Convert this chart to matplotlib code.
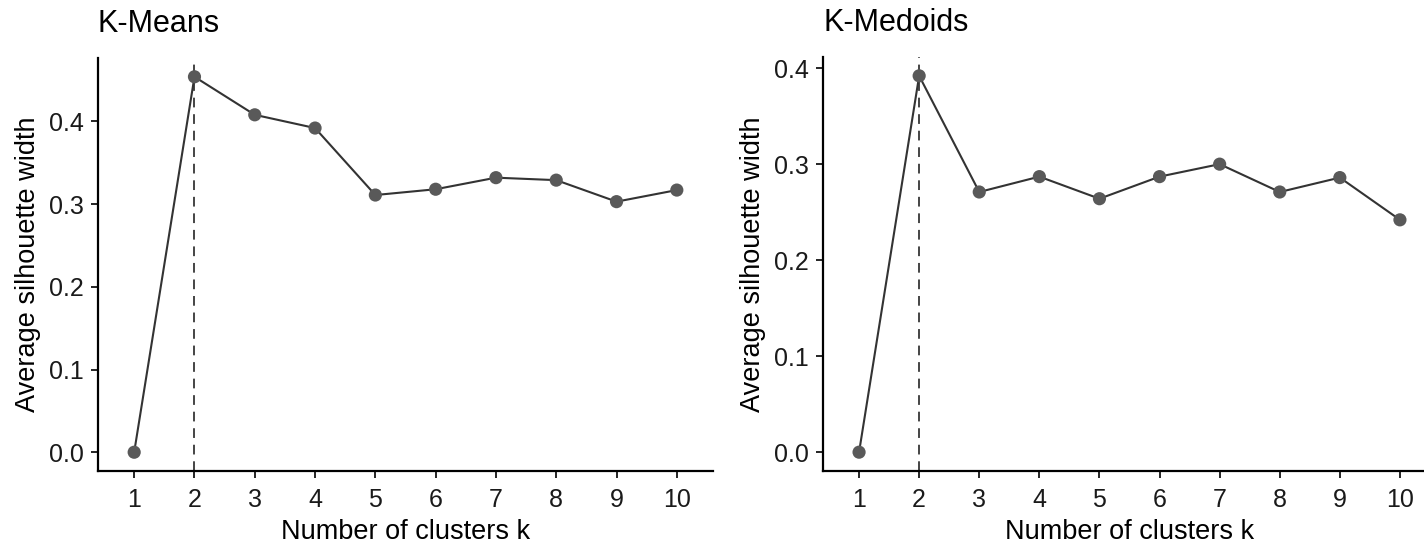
import matplotlib
matplotlib.use('Agg')
import matplotlib.pyplot as plt

# silhouette widths
k_values = [1, 2, 3, 4, 5, 6, 7, 8, 9, 10]
kmeans_sil = [0.0, 0.454, 0.408, 0.392, 0.311, 0.318, 0.332, 0.329, 0.303, 0.317]
kmedoids_sil = [0.0, 0.392, 0.271, 0.287, 0.264, 0.287, 0.300, 0.271, 0.286, 0.242]
best_k = 2
titles = ['K-Means', 'K-Medoids']
yticks_kmeans = [0.0, 0.1, 0.2, 0.3, 0.4]
yticks_kmedoids = [0.0, 0.1, 0.2, 0.3, 0.4]

plt.rcParams['font.family'] = ['Liberation Sans', 'DejaVu Sans']

LINE = '#333333'
POINT = '#595959'


def draw_panel(ax, y, title, yticks):
    ax.plot(k_values, y, color=LINE, lw=1.5, zorder=2)
    ax.scatter(k_values, y, s=90, color=POINT, zorder=3, edgecolors='none')
    ax.axvline(best_k, color='#444444', lw=1.4, ls=(0, (5, 3.5)), zorder=1)
    ymax = max(y)
    pad = 0.05 * ymax
    ax.set_ylim(-pad, ymax + pad)
    ax.set_xlim(0.4, 10.6)
    ax.set_xticks(k_values)
    ax.set_yticks(yticks)
    ax.set_yticklabels(['{:.1f}'.format(t) for t in yticks])
    for side in ['top', 'right']:
        ax.spines[side].set_visible(False)
    for side in ['left', 'bottom']:
        ax.spines[side].set_linewidth(1.6)
        ax.spines[side].set_color('black')
    ax.tick_params(axis='both', length=5, width=1.2, colors='black',
                   labelsize=18, labelcolor='#1a1a1a')
    ax.tick_params(axis='x', pad=7)
    ax.tick_params(axis='y', pad=5)
    ax.set_xlabel('Number of clusters k', fontsize=19.5, color='black', labelpad=5)
    ax.set_ylabel('Average silhouette width', fontsize=19.5, color='black', labelpad=6)
    ax.set_title(title, fontsize=22, loc='left', color='black', pad=19, x=0.0)


fig = plt.figure(figsize=(14.24, 5.48), dpi=100)
ax1 = fig.add_axes([98 / 1424, 1 - 471 / 548, 615 / 1424, 413 / 548])
ax2 = fig.add_axes([823 / 1424, 1 - 471 / 548, 613 / 1424, 414 / 548])

draw_panel(ax1, kmeans_sil, titles[0], yticks_kmeans)
draw_panel(ax2, kmedoids_sil, titles[1], yticks_kmedoids)

fig.savefig('out.png', dpi=100)
